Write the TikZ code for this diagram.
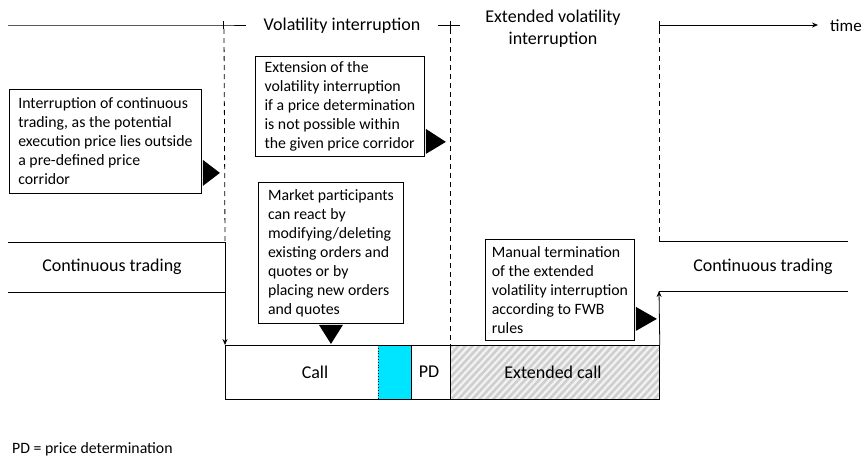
\documentclass[tikz,border=0pt]{standalone}
\usepackage{fontspec}
\setmainfont{Carlito}
\usetikzlibrary{arrows.meta,calc}
\definecolor{callcyan}{RGB}{0,229,255}
\tikzset{
  bigtxt/.style={font=\fontsize{18}{22}\selectfont, inner sep=0pt},
  smalltxt/.style={font=\fontsize{15.8}{19}\selectfont},
  infobox/.style={draw, line width=0.9pt, smalltxt, align=left, inner sep=0pt, anchor=north west},
  ln/.style={line width=0.8pt},
  dsh/.style={line width=0.8pt, dash pattern=on 5pt off 4pt},
  pointer/.style={fill=black, draw=none},
  arr/.style={line width=0.8pt, -{Stealth[length=6pt,width=5pt]}},
}
\begin{document}
\begin{tikzpicture}[x=1pt,y=-1pt]
\useasboundingbox (0,0) rectangle (864,466);

% timeline
\coordinate (t0) at (8,25);
\coordinate (k1) at (223,25);
\coordinate (k1e) at (246,25);
\coordinate (k2s) at (438,25);
\coordinate (k2) at (450,25);
\coordinate (k2e) at (460,25);
\coordinate (k3) at (659,25);
\coordinate (tend) at (818,25);
\draw[ln] (t0) -- (k1) -- (k1e);
\draw[ln] (k2s) -- (k2e);
\draw[arr] (k3) -- (tend);
\foreach \k in {k1,k2,k3} \draw[ln] ($(\k)+(0,-4)$) -- ($(\k)+(0,4)$);
\node[bigtxt] (vi) at (342,26) {Volatility interruption};
\node[bigtxt, align=center] (evi) at (553,29) {Extended volatility\\interruption};
\node[font=\fontsize{17}{20}\selectfont, inner sep=0pt, anchor=west] (time) at (830,26) {time};

% call boxes
\node[draw, ln, minimum width=225pt, minimum height=54pt, anchor=north west, inner sep=0pt] (callbox) at (225,345) {};
\fill[callcyan] (378,345) rectangle (411,399);
\draw[line width=0.8pt, dotted] (378,345) rectangle (411,399);
\draw[ln] (411,345) -- (411,399);
\draw[ln] (225,345) rectangle (450,399);
\node[bigtxt] (call) at (315,372) {Call};
\node[bigtxt] (pd) at (429,372) {PD};

\begin{scope}
\clip (450,345) rectangle (659,399);
\fill[gray!10] (450,345) rectangle (659,399);
\foreach \i in {0,7,...,280} \draw[gray!38, line width=2.6pt] (450+\i-60,405) -- (450+\i,340);
\end{scope}
\node[draw, ln, minimum width=209pt, minimum height=54pt, anchor=north west, inner sep=0pt] (extbox) at (450,345) {};
\node[bigtxt] (ext) at (553,372) {Extended call};

% continuous trading bands
\coordinate (l1) at (8,242); \coordinate (l1e) at (225,242);
\coordinate (l2) at (8,292); \coordinate (l2e) at (225,292);
\draw[ln] (l1) -- (l1e);
\draw[ln] (l2) -- (l2e);
\node[bigtxt] (ct1) at (112,267) {Continuous trading};
\coordinate (r1) at (659,241); \coordinate (r1e) at (848,241);
\coordinate (r2) at (659,291); \coordinate (r2e) at (848,291);
\draw[ln] (r1) -- (r1e);
\draw[ln] (r2) -- (r2e);
\node[bigtxt] (ct2) at (763,267) {Continuous trading};

% dashed verticals and arrows
\draw[dsh] ($(k1)+(1,4)$) -- (225,242);
\draw[arr] (l1e) -- (callbox.north west);
\draw[dsh] ($(k2)+(0,4)$) -- (extbox.north west);
\draw[dsh] ($(k3)+(0,4)$) -- (r1);
\draw[arr] (extbox.north east) -- (r2);

% info boxes
\node[infobox, minimum width=192pt, minimum height=104pt] (b1) at (9,89)
 {Interruption of continuous\\trading, as the potential\\execution price lies outside\\a pre-defined price\\corridor};
\node[infobox, minimum width=169pt, minimum height=100pt] (b2) at (255,56)
 {Extension of the\\volatility interruption\\if a price determination\\is not possible within\\the given price corridor};
\node[infobox, minimum width=145pt, minimum height=141pt] (b3) at (258,182)
 {Market participants\\can react by\\modifying/deleting\\existing orders and\\quotes or by\\placing new orders\\and quotes};
\node[infobox, minimum width=149pt, minimum height=101pt] (b4) at (485,239)
 {Manual termination\\of the extended\\volatility interruption\\according to FWB\\rules};

% pointers
\fill[pointer] ($(b1.south east)+(1,-34)$) -- ($(b1.south east)+(18,-21)$) -- ($(b1.south east)+(1,-8)$) -- cycle;
\fill[pointer] ($(b2.south east)+(1,-28)$) -- ($(b2.south east)+(21,-15)$) -- ($(b2.south east)+(1,-3)$) -- cycle;
\fill[pointer] ($(b3.south)+(-12,1)$) -- ($(b3.south)+(0,20)$) -- ($(b3.south)+(12,1)$) -- cycle;
\fill[pointer] ($(b4.south east)+(1,-34)$) -- ($(b4.south east)+(22,-22)$) -- ($(b4.south east)+(1,-10)$) -- cycle;

\node[smalltxt, anchor=west, inner sep=0pt] (legend) at (12,449) {PD = price determination};
\end{tikzpicture}
\end{document}
